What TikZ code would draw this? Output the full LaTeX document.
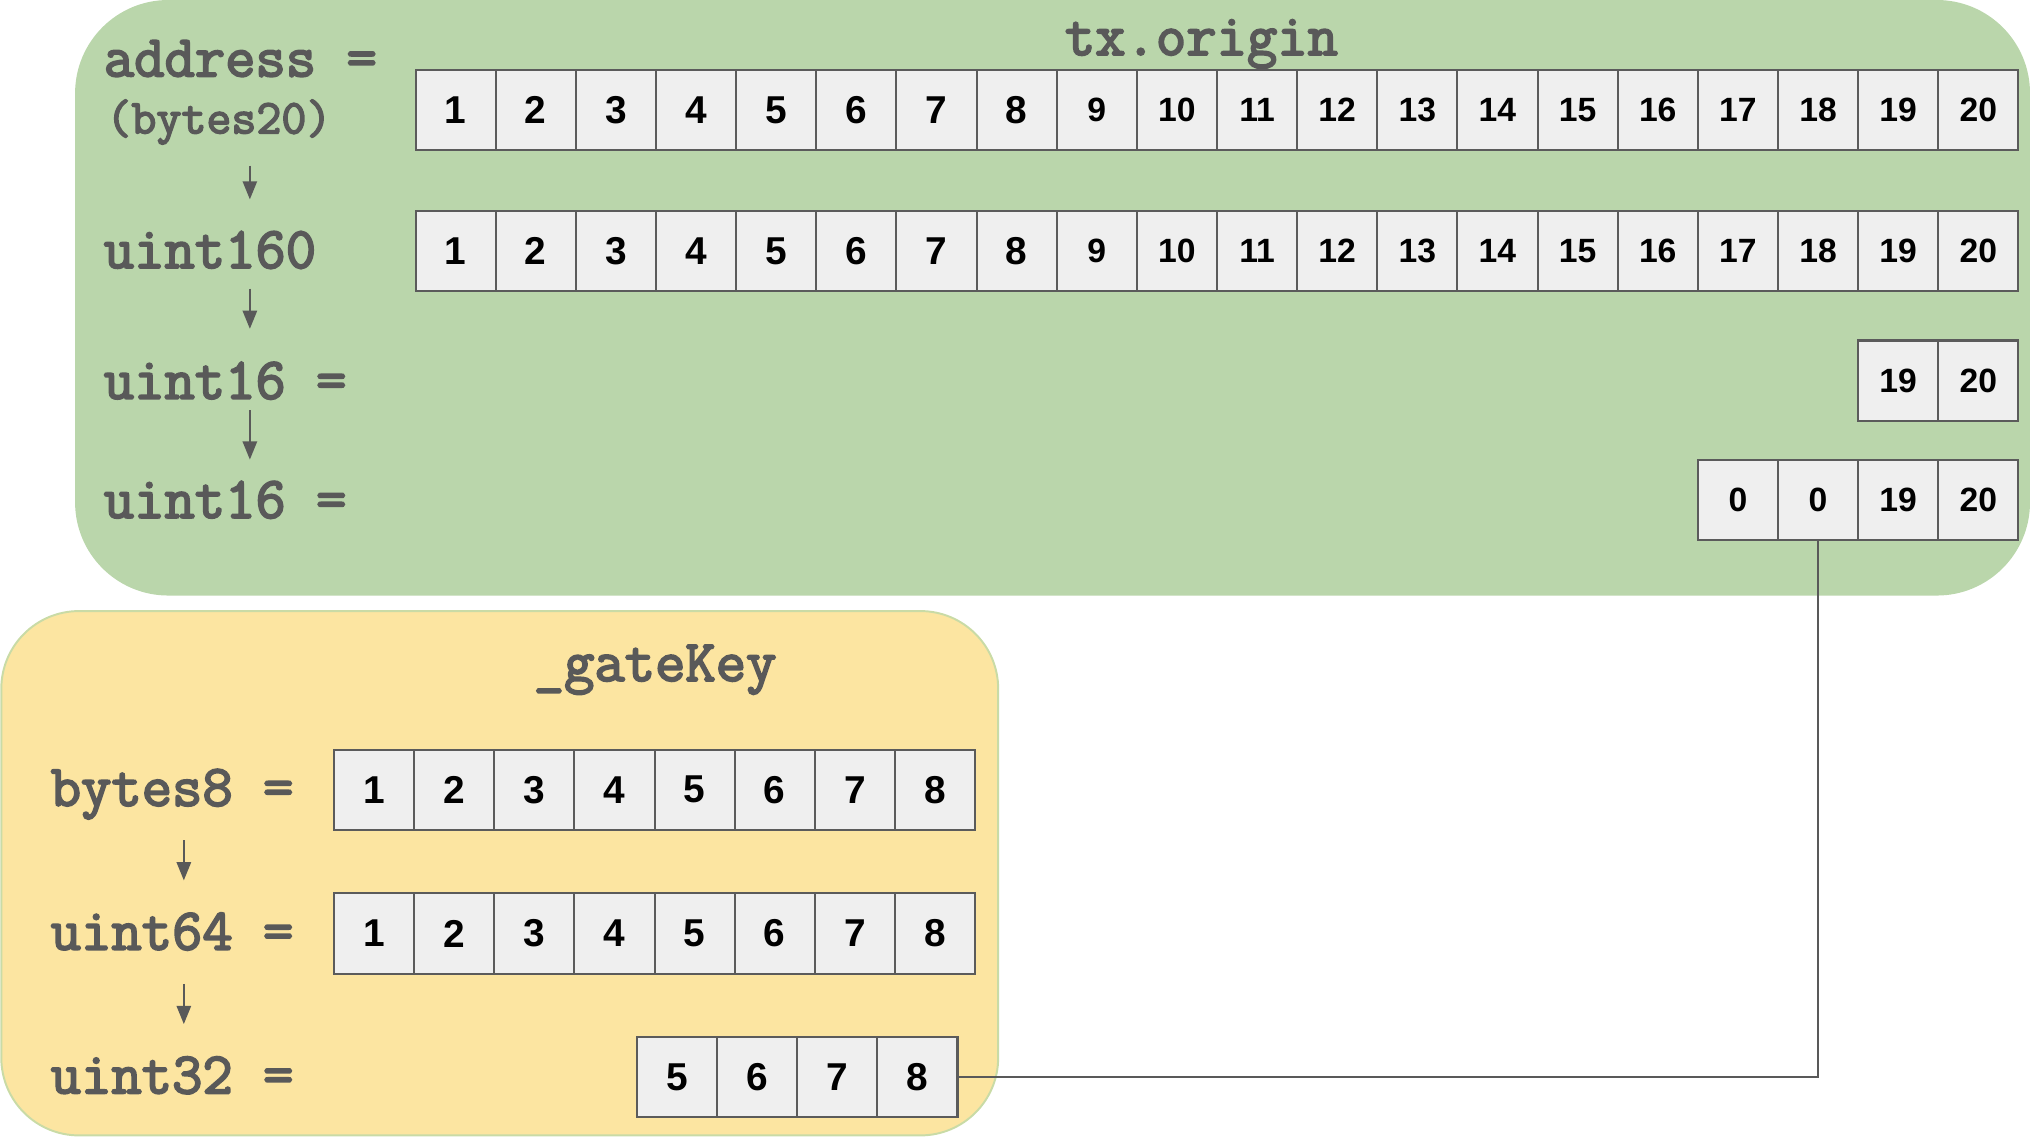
\documentclass[tikz,border=0pt]{standalone}
\usepackage{fontspec}
\setmainfont{Liberation Sans}
\newfontfamily\cmono{Latin Modern Mono}[FakeBold=3.2]
\usetikzlibrary{arrows.meta}
\definecolor{grn}{HTML}{BAD6AB}
\definecolor{ylw}{HTML}{FCE5A1}
\definecolor{ylwline}{HTML}{C9DBA6}
\definecolor{cellfill}{HTML}{EFEFEF}
\definecolor{cellline}{HTML}{5B5B5B}
\definecolor{txt}{HTML}{595959}
\tikzset{
  cell/.style={draw=cellline, fill=cellfill, line width=1.6pt, minimum width=61.9pt, minimum height=62pt, inner sep=0pt},
  lbl/.style={anchor=base west, inner sep=0pt, text=txt, font=\fontsize{45.5}{45.5}\selectfont\cmono},
  ttl/.style={anchor=base, inner sep=0pt, text=txt, font=\fontsize{45.5}{45.5}\selectfont\cmono},
  conv/.style={draw=txt, line width=1.5pt, -{Triangle[width=11pt,length=14pt]}},
  link/.style={draw=txt, line width=1.5pt},
}
\begin{document}
\begin{tikzpicture}[x=1pt,y=-1pt]
\useasboundingbox (0,0) rectangle (1568,880.6);
% containers
\fill[grn, rounded corners=72pt] (58,0) rectangle (1568,460);
\filldraw[fill=ylw, draw=ylwline, line width=1.5pt, rounded corners=60pt] (1,472) rectangle (771,877);
% titles
\node[ttl] (txo) at (928,42.5) {tx.origin};
\node[ttl] (gk) at (506,526) {\_gateKey};
% top labels
\node[lbl] (l1) at (80,59) {address =};
\node[lbl, font=\fontsize{37.5}{37.5}\selectfont\cmono] (l1b) at (82,103) {(bytes20)};
\node[lbl] (l2) at (80,207) {uint160};
\node[lbl] (l3) at (80,308) {uint16 =};
\node[lbl] (l4) at (80,400) {uint16 =};
% gatekey labels
\node[lbl] (g1) at (39,622.4) {bytes8 =};
\node[lbl] (g2) at (39,733.5) {uint64 =};
\node[lbl] (g3) at (39,844.5) {uint32 =};
% rows 1 and 2
\foreach \i in {1,...,20}{
  \ifnum\i<9 \def\fs{30}\else\def\fs{26}\fi
  \node[cell, font=\fontsize{\fs}{\fs}\selectfont\bfseries] (a\i) at ({321+61.9*(\i-0.5)},85) {\i};
  \node[cell, font=\fontsize{\fs}{\fs}\selectfont\bfseries] (b\i) at ({321+61.9*(\i-0.5)},194) {\i};
}
% row 3
\node[cell, font=\fontsize{26}{26}\selectfont\bfseries] (c1) at ({321+61.9*18.5},294) {19};
\node[cell, font=\fontsize{26}{26}\selectfont\bfseries] (c2) at ({321+61.9*19.5},294) {20};
% row 4
\foreach \t [count=\k] in {0,0,19,20}{
  \node[cell, font=\fontsize{26}{26}\selectfont\bfseries] (d\k) at ({1311.4+61.9*(\k-0.5)},386) {\t};
}
% gatekey rows
\foreach \i in {1,...,8}{
  \node[cell, font=\fontsize{30}{30}\selectfont\bfseries] (e\i) at ({258+61.9*(\i-0.5)},610) {\i};
  \node[cell, font=\fontsize{30}{30}\selectfont\bfseries] (f\i) at ({258+61.9*(\i-0.5)},721) {\i};
}
\foreach \t [count=\k] in {5,6,7,8}{
  \node[cell, font=\fontsize{30}{30}\selectfont\bfseries] (h\k) at ({492+61.9*(\k-0.5)},832) {\t};
}
% conversion arrows
\coordinate (p1s) at (193,128); \coordinate (p1e) at (193,154);
\coordinate (p2s) at (193,223); \coordinate (p2e) at (193,254);
\coordinate (p3s) at (193,317); \coordinate (p3e) at (193,355);
\coordinate (q1s) at (142,649); \coordinate (q1e) at (142,680);
\coordinate (q2s) at (142,760); \coordinate (q2e) at (142,791);
\draw[conv] (p1s) -- (p1e);
\draw[conv] (p2s) -- (p2e);
\draw[conv] (p3s) -- (p3e);
\draw[conv] (q1s) -- (q1e);
\draw[conv] (q2s) -- (q2e);
% link
\draw[link] (d2.south) |- (h4.east);
\end{tikzpicture}
\end{document}
